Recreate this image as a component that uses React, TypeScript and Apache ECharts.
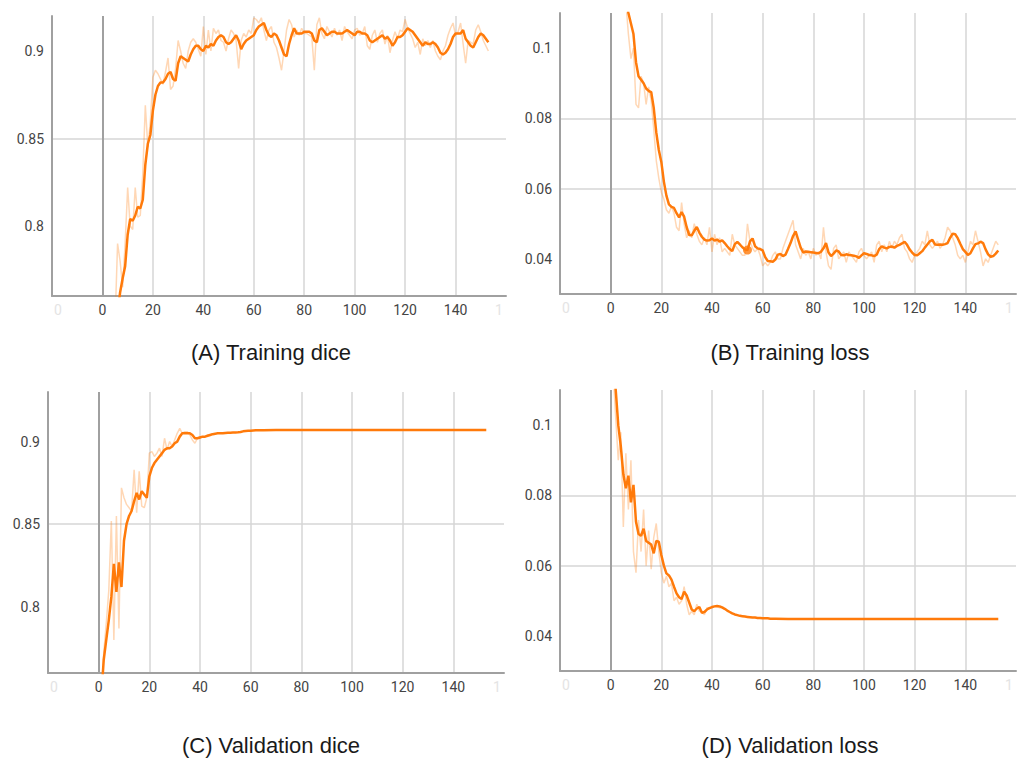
import React, { useEffect, useRef } from "react";
import * as echarts from "echarts";

// ---------- DATA ----------
const epochs154 = Array.from({ length: 154 }, (_, i) => i);
const epochs66 = Array.from({ length: 66 }, (_, i) => i);
const epochs46 = Array.from({ length: 46 }, (_, i) => i);
const flatTailEpochs = [70, 80, 100, 120, 140, 153];

const xTicks = [-20, 0, 20, 40, 60, 80, 100, 120, 140, 160];
const diceTicks = [0.8, 0.85, 0.9];
const lossTicks = [0.04, 0.06, 0.08, 0.1];

const titles = ["(A) Training dice", "(B) Training loss", "(C) Validation dice", "(D) Validation loss"];

const trainDiceSmooth = [
  0.60, 0.63, 0.66, 0.69, 0.71, 0.73, 0.75, 0.762, 0.77, 0.777,
  0.795, 0.804, 0.803, 0.806, 0.811, 0.81, 0.815, 0.835, 0.847, 0.852,
  0.866, 0.875, 0.88, 0.882, 0.882, 0.884, 0.887, 0.888, 0.884, 0.883,
  0.893, 0.897, 0.896, 0.895, 0.894, 0.898, 0.901, 0.903, 0.903, 0.901,
  0.9, 0.903, 0.902, 0.904, 0.903, 0.906, 0.908, 0.909, 0.908, 0.905,
  0.904, 0.905, 0.907, 0.909, 0.906, 0.901, 0.904, 0.906, 0.907, 0.908,
  0.909, 0.912, 0.914, 0.915, 0.916, 0.912, 0.909, 0.908, 0.91, 0.909,
  0.906, 0.902, 0.898, 0.897, 0.904, 0.909, 0.913, 0.91, 0.91, 0.91,
  0.911, 0.911, 0.911, 0.91, 0.906, 0.905, 0.912, 0.913, 0.911, 0.909,
  0.91, 0.911, 0.911, 0.91, 0.91, 0.91, 0.911, 0.912, 0.911, 0.91,
  0.909, 0.911, 0.911, 0.91, 0.91, 0.909, 0.906, 0.905, 0.906, 0.907,
  0.908, 0.909, 0.907, 0.908, 0.906, 0.903, 0.905, 0.908, 0.908, 0.909,
  0.911, 0.913, 0.912, 0.911, 0.909, 0.907, 0.905, 0.903, 0.905, 0.904,
  0.904, 0.905, 0.904, 0.902, 0.899, 0.898, 0.899, 0.901, 0.904, 0.908,
  0.91, 0.91, 0.91, 0.912, 0.907, 0.905, 0.903, 0.902, 0.905, 0.908,
  0.91, 0.909, 0.907, 0.905,
];
const trainDiceRaw = [
  0.58, 0.64, 0.67, 0.70, 0.72, 0.745, 0.79, 0.78, 0.765, 0.79,
  0.822, 0.80, 0.798, 0.822, 0.805, 0.806, 0.83, 0.869, 0.845, 0.86,
  0.885, 0.889, 0.887, 0.884, 0.881, 0.888, 0.896, 0.878, 0.88, 0.89,
  0.906, 0.9, 0.893, 0.89, 0.9, 0.905, 0.907, 0.905, 0.901, 0.897,
  0.914, 0.898, 0.912, 0.9, 0.913, 0.91, 0.912, 0.906, 0.905, 0.9,
  0.907, 0.912, 0.91, 0.906, 0.89, 0.906, 0.91, 0.908, 0.912, 0.91,
  0.919, 0.918, 0.916, 0.919, 0.912, 0.906, 0.912, 0.914, 0.905, 0.902,
  0.896, 0.889, 0.9, 0.912, 0.918, 0.915, 0.908, 0.912, 0.909, 0.913,
  0.91, 0.91, 0.909, 0.908, 0.889, 0.915, 0.919, 0.91, 0.907, 0.914,
  0.911, 0.908, 0.913, 0.909, 0.912, 0.906, 0.914, 0.911, 0.909, 0.907,
  0.912, 0.913, 0.909, 0.91, 0.914, 0.903, 0.901, 0.909, 0.912, 0.905,
  0.91, 0.912, 0.904, 0.909, 0.899, 0.906, 0.911, 0.907, 0.912, 0.911,
  0.918, 0.913, 0.91, 0.907, 0.902, 0.905, 0.898, 0.907, 0.903, 0.906,
  0.902, 0.906, 0.9, 0.897, 0.895, 0.9, 0.903, 0.909, 0.913, 0.916,
  0.909, 0.911, 0.916, 0.904, 0.893, 0.906, 0.905, 0.904, 0.912, 0.915,
  0.911, 0.906, 0.903, 0.9,
];

const trainLossSmooth = [
  0.16, 0.15, 0.14, 0.13, 0.125, 0.12, 0.115, 0.11, 0.107, 0.104,
  0.096, 0.092, 0.091, 0.09, 0.0885, 0.0878, 0.0875, 0.083, 0.076, 0.071,
  0.0676, 0.062, 0.058, 0.0555, 0.0548, 0.0545, 0.053, 0.0518, 0.0533, 0.052,
  0.049, 0.0468, 0.0467, 0.048, 0.0491, 0.0475, 0.0463, 0.0455, 0.0452, 0.0453,
  0.0458, 0.0452, 0.0455, 0.0449, 0.0453, 0.0445, 0.0436, 0.0428, 0.0422, 0.0442,
  0.0448, 0.0441, 0.0433, 0.0427, 0.0425, 0.045, 0.0458, 0.0436, 0.043, 0.0428,
  0.0424, 0.0405, 0.0394, 0.0393, 0.0392, 0.0398, 0.0412, 0.0414, 0.0408, 0.0412,
  0.0428, 0.0445, 0.0465, 0.0478, 0.0455, 0.0432, 0.0418, 0.0421, 0.042, 0.0419,
  0.0418, 0.0417, 0.0416, 0.042, 0.043, 0.0445, 0.0418, 0.0408, 0.0415, 0.0424,
  0.0421, 0.0411, 0.041, 0.0413, 0.0411, 0.041, 0.0409, 0.0407, 0.0403, 0.041,
  0.0416, 0.0414, 0.0411, 0.041, 0.0408, 0.0412, 0.0428, 0.0436, 0.0432, 0.043,
  0.0434, 0.0435, 0.0432, 0.0437, 0.044, 0.0444, 0.0449, 0.044, 0.0427, 0.0418,
  0.0411, 0.041, 0.0416, 0.0422, 0.0432, 0.0441, 0.045, 0.0454, 0.0441, 0.044,
  0.0441, 0.044, 0.0442, 0.0445, 0.046, 0.0472, 0.047, 0.0459, 0.0443, 0.0428,
  0.042, 0.0411, 0.0416, 0.043, 0.0442, 0.0444, 0.0449, 0.0445, 0.0427, 0.0413,
  0.0406, 0.0408, 0.0415, 0.0424,
];
const trainLossRaw = [
  0.17, 0.155, 0.145, 0.135, 0.12, 0.125, 0.113, 0.104, 0.097, 0.1,
  0.084, 0.083, 0.092, 0.09, 0.084, 0.089, 0.085, 0.077, 0.068, 0.063,
  0.059, 0.057, 0.054, 0.053, 0.055, 0.053, 0.049, 0.048, 0.056, 0.05,
  0.046, 0.048, 0.046, 0.05, 0.047, 0.045, 0.044, 0.046, 0.044, 0.049,
  0.042, 0.047, 0.044, 0.046, 0.042, 0.043, 0.042, 0.041, 0.047, 0.044,
  0.043, 0.042, 0.041, 0.041, 0.05, 0.045, 0.043, 0.042, 0.043, 0.041,
  0.038, 0.039, 0.038, 0.039, 0.041, 0.042, 0.04, 0.04, 0.043, 0.045,
  0.047, 0.049, 0.051, 0.044, 0.042, 0.04, 0.043, 0.041, 0.042, 0.04,
  0.043, 0.041, 0.042, 0.04, 0.049, 0.042, 0.038, 0.037, 0.043, 0.044,
  0.04, 0.041, 0.042, 0.039, 0.042, 0.041, 0.04, 0.039, 0.042, 0.043,
  0.041, 0.04, 0.041, 0.042, 0.039, 0.044, 0.045, 0.042, 0.044, 0.042,
  0.045, 0.043, 0.045, 0.044, 0.046, 0.047, 0.043, 0.042, 0.04, 0.039,
  0.041, 0.042, 0.043, 0.045, 0.044, 0.048, 0.044, 0.043, 0.044, 0.045,
  0.043, 0.044, 0.046, 0.049, 0.048, 0.046, 0.044, 0.041, 0.04, 0.041,
  0.039, 0.042, 0.045, 0.044, 0.048, 0.045, 0.042, 0.038, 0.04, 0.039,
  0.041, 0.043, 0.045, 0.044,
];
const trainLossMarker = [[54, 0.0425]];

const valDiceSmoothHead = [
  0.72, 0.745, 0.768, 0.78, 0.792, 0.806, 0.826, 0.809, 0.827, 0.812,
  0.84, 0.85, 0.855, 0.858, 0.864, 0.869, 0.865, 0.87, 0.868, 0.866,
  0.879, 0.884, 0.887, 0.889, 0.891, 0.893, 0.895, 0.896, 0.896, 0.897,
  0.899, 0.9, 0.903, 0.905, 0.905, 0.905, 0.905, 0.904, 0.902, 0.902,
  0.9025, 0.903, 0.903, 0.9035, 0.904, 0.9045, 0.9048, 0.905, 0.905, 0.905,
  0.9052, 0.9053, 0.9054, 0.9055, 0.9055, 0.9056, 0.9058, 0.9062, 0.9064, 0.9065,
  0.9066, 0.9067, 0.9068, 0.9068, 0.9069, 0.9069,
];
const valDiceSmoothTail = [0.907, 0.907, 0.907, 0.907, 0.907, 0.907];
const valDiceRaw = [
  0.71, 0.74, 0.772, 0.79, 0.81, 0.852, 0.78, 0.855, 0.787, 0.872,
  0.866, 0.862, 0.86, 0.858, 0.883, 0.857, 0.882, 0.861, 0.86, 0.866,
  0.893, 0.894, 0.891, 0.893, 0.896, 0.891, 0.902, 0.895, 0.9, 0.897,
  0.901, 0.905, 0.908, 0.905, 0.906, 0.906, 0.904, 0.901, 0.899, 0.902,
  0.903, 0.903, 0.903, 0.904, 0.904, 0.905,
];

const valLossSmoothHead = [
  0.125, 0.117, 0.11, 0.1, 0.094, 0.086, 0.082, 0.0856, 0.078, 0.083,
  0.0725, 0.069, 0.0685, 0.0705, 0.067, 0.0665, 0.066, 0.0635, 0.067, 0.0668,
  0.063, 0.06, 0.0578, 0.0572, 0.056, 0.054, 0.0521, 0.051, 0.0505, 0.0526,
  0.0515, 0.0495, 0.0475, 0.047, 0.0478, 0.0482, 0.0466, 0.0468, 0.0475, 0.0479,
  0.0482, 0.0484, 0.0485, 0.0484, 0.0481, 0.0477, 0.0472, 0.0468, 0.0464, 0.0461,
  0.0459, 0.0457, 0.0456, 0.0455, 0.0454, 0.0453, 0.0452, 0.0452, 0.0451, 0.0451,
  0.045, 0.045, 0.045, 0.0449, 0.0449, 0.0449,
];
const valLossSmoothTail = [0.0448, 0.0448, 0.0448, 0.0448, 0.0448, 0.0448];
const valLossRaw = [
  0.13, 0.115, 0.102, 0.09, 0.098, 0.071, 0.092, 0.076, 0.09, 0.064,
  0.058, 0.073, 0.064, 0.076, 0.06, 0.07, 0.059, 0.068, 0.072, 0.064,
  0.058, 0.055, 0.057, 0.054, 0.055, 0.05, 0.051, 0.049, 0.05, 0.054,
  0.049, 0.046, 0.047, 0.046, 0.049, 0.047, 0.047, 0.046, 0.048, 0.048,
  0.048, 0.0485, 0.0485, 0.048, 0.048, 0.0477,
];

// ---------- HELPERS ----------
const zip = (xs: number[], ys: number[]) => xs.map((x, i) => [x, ys[i]]);

const ORANGE = "#ff7a0a";
const GRID_C = "#d6d6d6";
const AXIS_C = "#a0a0a0";
const LABEL_C = "#444444";

const panels = [
  {
    title: titles[0],
    grid: { left: 52, top: 16, width: 454, height: 280 },
    yMin: 0.76, yMax: 0.92, yTicks: diceTicks,
    smooth: zip(epochs154, trainDiceSmooth),
    raw: zip(epochs154, trainDiceRaw),
    titlePos: [271, 352],
  },
  {
    title: titles[1],
    grid: { left: 560, top: 13, width: 456, height: 281 },
    yMin: 0.03, yMax: 0.11, yTicks: lossTicks,
    smooth: zip(epochs154, trainLossSmooth),
    raw: zip(epochs154, trainLossRaw),
    marker: trainLossMarker,
    titlePos: [790, 352],
  },
  {
    title: titles[2],
    grid: { left: 48, top: 392, width: 456, height: 281 },
    yMin: 0.76, yMax: 0.93, yTicks: diceTicks,
    smooth: zip(epochs66.concat(flatTailEpochs), valDiceSmoothHead.concat(valDiceSmoothTail)),
    raw: zip(epochs46, valDiceRaw),
    titlePos: [271, 745],
  },
  {
    title: titles[3],
    grid: { left: 560, top: 390, width: 456, height: 281 },
    yMin: 0.03, yMax: 0.11, yTicks: lossTicks,
    smooth: zip(epochs66.concat(flatTailEpochs), valLossSmoothHead.concat(valLossSmoothTail)),
    raw: zip(epochs46, valLossRaw),
    titlePos: [790, 745],
  },
];

function buildOption() {
  const grid: any[] = [];
  const xAxis: any[] = [];
  const yAxis: any[] = [];
  const series: any[] = [];
  const graphic: any[] = [];

  panels.forEach((p, i) => {
    grid.push({ ...p.grid, containLabel: false });
    xAxis.push({
      type: "value",
      gridIndex: i,
      min: -20,
      max: 160,
      interval: 20,
      axisLine: { show: true, onZero: false, lineStyle: { color: AXIS_C, width: 2 } },
      axisTick: { show: false },
      splitLine: { show: true, showMaxLine: false, lineStyle: { color: GRID_C, width: 1.5 } },
      axisLabel: {
        show: true,
        margin: 7,
        color: LABEL_C,
        fontSize: 14,
        fontFamily: "Roboto",
        showMinLabel: true,
        showMaxLabel: true,
        formatter: (v: number) => (v === -20 ? "{f|0}" : v === 160 ? "{g|1}" : String(v)),
        rich: {
          f: { color: "#e4e4e4", fontSize: 14, fontFamily: "Roboto", padding: [0, 0, 0, 12] },
          g: { color: "#e4e4e4", fontSize: 14, fontFamily: "Roboto", padding: [0, 14, 0, 0] },
        },
      },
    });
    yAxis.push({
      type: "value",
      gridIndex: i,
      min: p.yMin,
      max: p.yMax,
      axisLine: { show: true, onZero: false, lineStyle: { color: AXIS_C, width: 2 } },
      axisTick: { show: false, customValues: p.yTicks },
      splitLine: { show: true, showMinLine: false, showMaxLine: false, lineStyle: { color: GRID_C, width: 1.5 } },
      axisLabel: {
        customValues: p.yTicks,
        margin: 8,
        color: LABEL_C,
        fontSize: 14,
        fontFamily: "Roboto",
        formatter: (v: number) => String(parseFloat(v.toFixed(4))),
      },
    });
    series.push({
      type: "line",
      xAxisIndex: i,
      yAxisIndex: i,
      data: p.raw,
      showSymbol: false,
      symbol: "none",
      clip: true,
      lineStyle: { color: ORANGE, width: 1.5, opacity: 0.3 },
      itemStyle: { color: ORANGE },
      z: 2,
      markLine: {
        silent: true,
        symbol: ["none", "none"],
        label: { show: false },
        lineStyle: { color: AXIS_C, type: "solid", width: 2 },
        data: [{ xAxis: 0 }],
        z: 1,
      },
    });
    series.push({
      type: "line",
      xAxisIndex: i,
      yAxisIndex: i,
      data: p.smooth,
      showSymbol: false,
      symbol: "none",
      clip: true,
      lineStyle: { color: ORANGE, width: 2.5 },
      itemStyle: { color: ORANGE },
      z: 3,
    });
    if ((p as any).marker) {
      series.push({
        type: "scatter",
        xAxisIndex: i,
        yAxisIndex: i,
        data: (p as any).marker,
        symbolSize: 9,
        itemStyle: { color: ORANGE },
        z: 4,
      });
    }
    graphic.push({
      type: "text",
      x: p.titlePos[0],
      y: p.titlePos[1],
      style: {
        text: p.title,
        fill: "#1a1a1a",
        font: '22px "Liberation Sans", Arial, sans-serif',
        textAlign: "center",
        textVerticalAlign: "middle",
      },
    });
  });

  return {
    animation: false,
    backgroundColor: "#ffffff",
    grid,
    xAxis,
    yAxis,
    series,
    graphic,
  };
}

export default function App() {
  const ref = useRef<HTMLDivElement>(null);
  useEffect(() => {
    if (!ref.current) return;
    const chart = echarts.init(ref.current, undefined, { renderer: "svg" });
    chart.setOption(buildOption() as any);
    return () => chart.dispose();
  }, []);
  return (
    <div
      ref={ref}
      style={{ position: "absolute", left: 0, top: 0, width: 1023, height: 760, background: "#fff" }}
    />
  );
}
